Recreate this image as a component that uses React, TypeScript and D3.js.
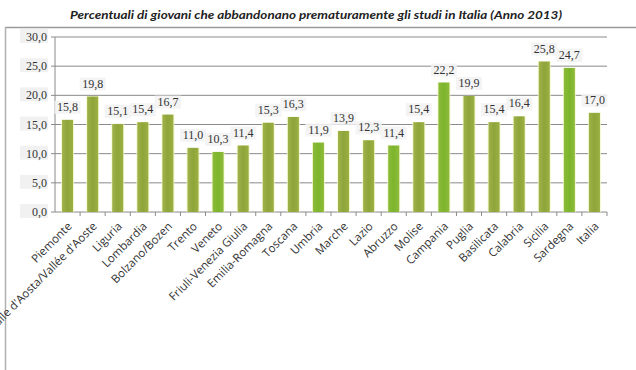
import React from "react";
import * as d3 from "d3";

const categories = [
  "Piemonte",
  "Valle d'Aosta/Vallée d'Aoste",
  "Liguria",
  "Lombardia",
  "Bolzano/Bozen",
  "Trento",
  "Veneto",
  "Friuli-Venezia Giulia",
  "Emilia-Romagna",
  "Toscana",
  "Umbria",
  "Marche",
  "Lazio",
  "Abruzzo",
  "Molise",
  "Campania",
  "Puglia",
  "Basilicata",
  "Calabria",
  "Sicilia",
  "Sardegna",
  "Italia",
];
const values = [15.8, 19.8, 15.1, 15.4, 16.7, 11.0, 10.3, 11.4, 15.3, 16.3, 11.9, 13.9, 12.3, 11.4, 15.4, 22.2, 19.9, 15.4, 16.4, 25.8, 24.7, 17.0];
const yTicks = [0, 5, 10, 15, 20, 25, 30];
const title = "Percentuali di giovani che abbandonano prematuramente gli studi in Italia (Anno 2013)";

const brightBars = new Set(["Veneto", "Umbria", "Abruzzo", "Campania", "Sardegna"]);

const W = 636;
const H = 370;
const left = 55;
const right = 607;
const top = 37;
const bottom = 212;

const fmt = (v: number) => v.toFixed(1).replace(".", ",");

export default function App() {
  const x = d3.scaleBand<string>().domain(categories).range([left, right]).paddingInner(0.56).paddingOuter(0.28);
  const y = d3.scaleLinear().domain([0, 30]).range([bottom, top]);
  const band = (right - left) / categories.length;
  const serif = "'Liberation Serif', 'DejaVu Serif', serif";
  const sans = "'Open Sans', 'Noto Sans', sans-serif";
  return (
    <svg width={W} height={H} style={{ position: "absolute", left: 0, top: 0, background: "#fff" }}>
      <defs>
        <linearGradient id="olive" x1="0" x2="1" y1="0" y2="0">
          <stop offset="0" stopColor="#9fb24a" />
          <stop offset="0.5" stopColor="#8ea53a" />
          <stop offset="1" stopColor="#9cb043" />
        </linearGradient>
        <linearGradient id="bright" x1="0" x2="1" y1="0" y2="0">
          <stop offset="0" stopColor="#8cbb3a" />
          <stop offset="0.5" stopColor="#7cb52c" />
          <stop offset="1" stopColor="#8fbb3c" />
        </linearGradient>
      </defs>
      <line x1={5} x2={W} y1={27.5} y2={27.5} stroke="#9a9a9a" strokeWidth={1.5} />
      <line x1={5.5} x2={5.5} y1={27} y2={H} stroke="#b0b0b0" strokeWidth={1.5} />
      <text
        x={316}
        y={19}
        textAnchor="middle"
        fontFamily="'Lato', 'Open Sans', sans-serif"
        fontStyle="italic"
        fontWeight="bold"
        fontSize={11}
        fill="#222"
        textLength={492}
        lengthAdjust="spacingAndGlyphs"
      >
        {title}
      </text>
      {yTicks.map((t) => (
        <g key={t}>
          <line x1={left} x2={right} y1={y(t)} y2={y(t)} stroke="#8a8a8a" strokeWidth={1} />
          <line x1={left - 4} x2={left} y1={y(t)} y2={y(t)} stroke="#8a8a8a" />
          <rect x={20} y={y(t) - 8} width={28} height={14} fill="#f1f1f1" />
          <text x={47} y={y(t) + 4} textAnchor="end" fontFamily={serif} fontSize={12} fill="#333">
            {fmt(t)}
          </text>
        </g>
      ))}
      <line x1={left} x2={left} y1={top} y2={bottom} stroke="#8a8a8a" />
      {categories.map((c, i) => (
        <line key={"tk" + i} x1={left + band * (i + 1)} x2={left + band * (i + 1)} y1={bottom} y2={bottom + 4} stroke="#8a8a8a" />
      ))}
      {categories.map((c, i) => {
        const bx = x(c) as number;
        const bw = x.bandwidth();
        return (
          <g key={c}>
            <rect x={bx - 1} y={y(values[i])} width={bw + 2} height={bottom - y(values[i])} fill="#f4f7c8" opacity={0.8} />
            <rect
              x={bx}
              y={y(values[i])}
              width={bw}
              height={bottom - y(values[i])}
              fill={brightBars.has(c) ? "url(#bright)" : "url(#olive)"}
            />
          </g>
        );
      })}
      {categories.map((c, i) => {
        const cx = (x(c) as number) + x.bandwidth() / 2;
        const ty = y(values[i]) - 9;
        return (
          <g key={"lbl" + c}>
            <rect x={cx - 13} y={ty - 10} width={26} height={13} fill="#f3f3f3" opacity={0.9} />
            <text x={cx} y={ty} textAnchor="middle" fontFamily={serif} fontSize={12} fill="#333">
              {fmt(values[i])}
            </text>
          </g>
        );
      })}
      {categories.map((c) => {
        const cx = (x(c) as number) + x.bandwidth() / 2 + 5;
        return (
          <text
            key={"cat" + c}
            transform={`translate(${cx},${bottom + 15}) rotate(-45)`}
            textAnchor="end"
            fontFamily={sans}
            fontSize={11.5}
            fill="#333"
          >
            {c}
          </text>
        );
      })}
    </svg>
  );
}
